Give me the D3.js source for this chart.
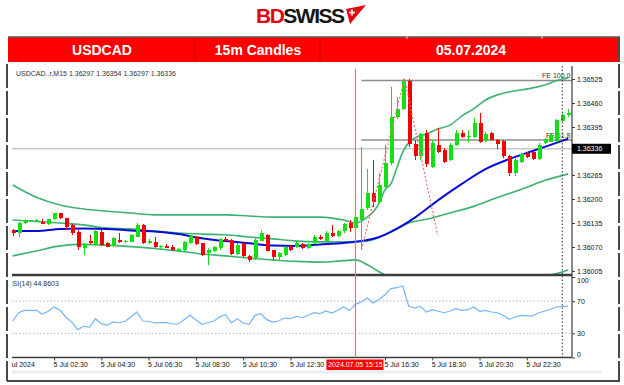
<!DOCTYPE html>
<html lang="en">
<head>
  <meta charset="UTF-8"/>
  <title>USDCAD 15m Candles</title>
  <script src="https://d3js.org/d3.v7.min.js"></script>
  <style>
body {
  margin: 0;
  background: #fff;
}

svg {
  display: block;
  font-family: 'Liberation Sans', Arial, sans-serif;
}

.axis text {
  font-size: 7px;
  fill: #111;
}

.axis line {
  stroke: #404040;
}

.axis path {
  display: none;
}

.header {
  font-size: 14px;
  font-weight: bold;
  fill: #fff;
}

.small {
  font-size: 7px;
  fill: #333;
}
  </style>
</head>
<body>
  <svg id="chart" width="624" height="385"></svg>
  <script>

// first bar of the chart, 15 minute bars
const startTime = '2024-07-05 00:45';

const opens = [1.36116, 1.36109, 1.36135, 1.36142, 1.36143, 1.36138, 1.36131, 1.36145, 1.36161, 1.36148,
  1.36130, 1.36111, 1.36066, 1.36087, 1.36075, 1.36111, 1.36080, 1.36073, 1.36089, 1.36084,
  1.36084, 1.36098, 1.36130, 1.36080, 1.36084, 1.36071, 1.36074, 1.36071, 1.36058, 1.36062,
  1.36080, 1.36098, 1.36080, 1.36055, 1.36058, 1.36066, 1.36091, 1.36089, 1.36051, 1.36080,
  1.36046, 1.36039, 1.36087, 1.36102, 1.36062, 1.36042, 1.36048, 1.36071, 1.36069, 1.36078,
  1.36066, 1.36080, 1.36098, 1.36087, 1.36109, 1.36101, 1.36114, 1.36134, 1.36121, 1.36143,
  1.36175, 1.36217, 1.36193, 1.36233, 1.36297, 1.36421, 1.36445, 1.36520, 1.36349, 1.36317,
  1.36379, 1.36287, 1.36346, 1.36333, 1.36306, 1.36346, 1.36379, 1.36368, 1.36368, 1.36405,
  1.36357, 1.36378, 1.36360, 1.36357, 1.36317, 1.36270, 1.36301, 1.36324, 1.36328, 1.36307,
  1.36351, 1.36355, 1.36357, 1.36412, 1.36427];

const highs = [1.36119, 1.36139, 1.36146, 1.36144, 1.36146, 1.36145, 1.36146, 1.36163, 1.36163, 1.36149,
  1.36132, 1.36116, 1.36080, 1.36102, 1.36119, 1.36117, 1.36084, 1.36097, 1.36108, 1.36089,
  1.36105, 1.36135, 1.36132, 1.36092, 1.36096, 1.36075, 1.36078, 1.36075, 1.36066, 1.36086,
  1.36102, 1.36101, 1.36082, 1.36066, 1.36074, 1.36094, 1.36096, 1.36092, 1.36081, 1.36082,
  1.36048, 1.36094, 1.36116, 1.36105, 1.36063, 1.36056, 1.36073, 1.36075, 1.36084, 1.36081,
  1.36081, 1.36102, 1.36102, 1.36112, 1.36130, 1.36116, 1.36134, 1.36143, 1.36166, 1.36341,
  1.36280, 1.36306, 1.36270, 1.36346, 1.36504, 1.36477, 1.36526, 1.36525, 1.36360, 1.36380,
  1.36387, 1.36360, 1.36392, 1.36338, 1.36352, 1.36387, 1.36387, 1.36387, 1.36419, 1.36432,
  1.36381, 1.36381, 1.36362, 1.36360, 1.36319, 1.36311, 1.36325, 1.36327, 1.36331, 1.36351,
  1.36364, 1.36378, 1.36418, 1.36433, 1.36445];

const lows = [1.36100, 1.36096, 1.36132, 1.36140, 1.36141, 1.36131, 1.36130, 1.36143, 1.36146, 1.36116,
  1.36103, 1.36062, 1.36048, 1.36078, 1.36073, 1.36073, 1.36070, 1.36070, 1.36081, 1.36081,
  1.36084, 1.36097, 1.36078, 1.36078, 1.36066, 1.36065, 1.36067, 1.36059, 1.36056, 1.36059,
  1.36078, 1.36075, 1.36046, 1.36021, 1.36056, 1.36062, 1.36085, 1.36048, 1.36048, 1.36043,
  1.36029, 1.36035, 1.36085, 1.36058, 1.36035, 1.36035, 1.36046, 1.36059, 1.36067, 1.36065,
  1.36065, 1.36078, 1.36089, 1.36086, 1.36098, 1.36098, 1.36107, 1.36111, 1.36107, 1.36062,
  1.36170, 1.36179, 1.36188, 1.36229, 1.36292, 1.36418, 1.36441, 1.36342, 1.36306, 1.36306,
  1.36286, 1.36284, 1.36324, 1.36297, 1.36303, 1.36344, 1.36364, 1.36355, 1.36365, 1.36352,
  1.36354, 1.36357, 1.36335, 1.36311, 1.36262, 1.36262, 1.36297, 1.36311, 1.36306, 1.36306,
  1.36349, 1.36354, 1.36355, 1.36409, 1.36423];

const closes = [1.36108, 1.36134, 1.36143, 1.36143, 1.36144, 1.36132, 1.36145, 1.36161, 1.36148, 1.36125,
  1.36109, 1.36071, 1.36078, 1.36080, 1.36114, 1.36075, 1.36071, 1.36094, 1.36084, 1.36085,
  1.36102, 1.36130, 1.36080, 1.36086, 1.36071, 1.36073, 1.36068, 1.36062, 1.36064, 1.36084,
  1.36100, 1.36078, 1.36048, 1.36062, 1.36071, 1.36091, 1.36087, 1.36051, 1.36075, 1.36046,
  1.36035, 1.36089, 1.36109, 1.36060, 1.36042, 1.36053, 1.36069, 1.36062, 1.36080, 1.36066,
  1.36078, 1.36096, 1.36092, 1.36109, 1.36100, 1.36113, 1.36132, 1.36121, 1.36152, 1.36172,
  1.36215, 1.36193, 1.36238, 1.36297, 1.36421, 1.36443, 1.36520, 1.36349, 1.36317, 1.36376,
  1.36295, 1.36351, 1.36328, 1.36301, 1.36346, 1.36378, 1.36368, 1.36370, 1.36405, 1.36355,
  1.36376, 1.36360, 1.36349, 1.36317, 1.36270, 1.36306, 1.36322, 1.36315, 1.36308, 1.36346,
  1.36362, 1.36373, 1.36414, 1.36427, 1.36432];

const rsi = [45, 55.6, 58.6, 58.6, 58.6, 54, 57.4, 62.7, 58.6, 50.3,
  44, 34.5, 38.8, 37.9, 48.2, 42, 40, 44, 43.2, 45,
  50.3, 56.5, 45.3, 45, 42.9, 43.2, 43.2, 41.6, 41.6, 47,
  52.4, 47, 41.2, 43.2, 45, 50.3, 53.2, 42.9, 48.2, 42.9,
  41.2, 52.4, 54.4, 47, 44, 45.3, 49, 48.2, 51.2, 49.4,
  52.4, 55.6, 54.4, 57.8, 55.3, 58.6, 62.7, 58.6, 66, 68.9,
  73.9, 67.7, 72.3, 78, 85.5, 86.7, 88.8, 64, 61.5, 63.6,
  56.5, 59.4, 57.4, 55.6, 57.8, 60.6, 58.6, 59.4, 62.7, 57.4,
  58.6, 56.5, 55.6, 52.4, 47.5, 50.3, 52.4, 51.6, 51.6, 55.6,
  57.4, 59.9, 62.7, 63.6, 63.6];

// indicator lines: [bar index, price]
const bbUpper = [[0, 1.36238], [4, 1.36205], [8, 1.36184], [12, 1.36173], [16, 1.36167], [20, 1.36162],
  [24, 1.36157], [28, 1.36157], [32, 1.36157], [36, 1.36157], [40, 1.36154], [44, 1.36151],
  [48, 1.36151], [52, 1.36151], [56, 1.36143], [58, 1.36135], [59, 1.36140], [60, 1.36151],
  [61, 1.36165], [62, 1.36189], [63, 1.36225], [64, 1.36241], [65, 1.36284], [66, 1.36327],
  [67, 1.36352], [68, 1.36365], [70, 1.36376], [72, 1.36390], [74, 1.36400], [76, 1.36425],
  [78, 1.36444], [80, 1.36468], [82, 1.36482], [84, 1.36490], [86, 1.36495], [88, 1.36501],
  [90, 1.36509], [92, 1.36520], [94, 1.36528]];

const bbMiddle = [[0, 1.36143], [4, 1.36139], [8, 1.36135], [12, 1.36130], [16, 1.36121], [20, 1.36119],
  [24, 1.36113], [28, 1.36108], [32, 1.36105], [36, 1.36103], [40, 1.36097], [44, 1.36092],
  [48, 1.36086], [52, 1.36084], [56, 1.36084], [60, 1.36086], [62, 1.36096], [64, 1.36112],
  [67, 1.36135], [70, 1.36145], [74, 1.36162], [78, 1.36180], [82, 1.36204], [86, 1.36226],
  [90, 1.36250], [94, 1.36268]];

const bbLower = [[0, 1.36046], [4, 1.36059], [8, 1.36073], [12, 1.36077], [16, 1.36075], [20, 1.36071],
  [24, 1.36066], [28, 1.36059], [32, 1.36051], [36, 1.36046], [40, 1.36040], [44, 1.36035],
  [48, 1.36031], [52, 1.36029], [56, 1.36033], [58, 1.36035], [60, 1.36022], [62, 1.36003],
  [64, 1.35983], [67, 1.35918], [70, 1.35914], [74, 1.35924], [78, 1.35916], [82, 1.35926],
  [86, 1.35957], [90, 1.35991], [92, 1.35998], [94, 1.36008]];

const maLine = [[0, 1.36113], [4, 1.36113], [8, 1.36119], [12, 1.36120], [16, 1.36119], [20, 1.36115],
  [24, 1.36112], [28, 1.36105], [32, 1.36094], [36, 1.36086], [40, 1.36080], [44, 1.36074],
  [48, 1.36073], [52, 1.36077], [56, 1.36081], [58, 1.36084], [60, 1.36089], [62, 1.36097],
  [64, 1.36111], [68, 1.36149], [72, 1.36197], [76, 1.36241], [80, 1.36281], [84, 1.36308],
  [88, 1.36330], [92, 1.36352], [94, 1.36363]];

// fibo expansion drawing
const fePoints = [[59, 1.36062], [66.3, 1.36526], [71.9, 1.36102]];
const feLabels = ['FE 100.0', 'FE 61.8'];
const feLevels = [1.36521, 1.36360];
const feStart = 59;

const lastPrice = 1.36336;
const cursorBar = 58;
const cursorLabel = '2024.07.05 15:15';
const daySeparator = 93;

const priceTicks = [1.36525, 1.36460, 1.36395, 1.36265, 1.36200, 1.36135, 1.36070, 1.36005];
const rsiTicks = [0, 30, 70, 100];
const rsiLevels = [30, 70];
const timeLabels = ['5 Jul 2024', '5 Jul 02:30', '5 Jul 04:30', '5 Jul 06:30', '5 Jul 08:30', '5 Jul 10:30',
  '5 Jul 12:30', '5 Jul 16:30', '5 Jul 18:30', '5 Jul 20:30', '5 Jul 22:30'];
const timeLabelTimes = ['2024-07-05 00:00', '2024-07-05 02:30', '2024-07-05 04:30', '2024-07-05 06:30',
  '2024-07-05 08:30', '2024-07-05 10:30', '2024-07-05 12:30', '2024-07-05 16:30',
  '2024-07-05 18:30', '2024-07-05 20:30', '2024-07-05 22:30'];

const headerCells = ['USDCAD', '15m Candles', '05.07.2024'];
const topLine = 'USDCAD..r,M15  1.36297 1.36354 1.36297 1.36336';
const rsiTitle = 'RSI(14) 44.8603';

const svg = d3.select('#chart');

const left = 12;
const right = 572;
const mainTop = 66;
const mainBottom = 274;
const rsiTop = 277;
const rsiBottom = 357.5;

const parse = d3.timeParse('%Y-%m-%d %H:%M');
const t0 = parse(startTime);
const barIndex = (s) => (parse(s) - t0) / (15 * 60 * 1000);

const xScale = d3.scaleLinear()
  .domain([0, opens.length - 1])
  .range([12.7, 568.2]);

const yScale = d3.scaleLinear()
  .domain([1.36005, 1.36525])
  .range([271, 79]);

const rsiY = d3.scaleLinear()
  .domain([0, 100])
  .range([rsiBottom, rsiTop]);

const bars = opens.map((o, i) => ({ i, o, h: highs[i], l: lows[i], c: closes[i] }));

// ---------- logo + red header ----------
const logo = svg.append('text')
  .attr('x', 256)
  .attr('y', 23)
  .attr('font-size', 21)
  .attr('font-weight', 'bold')
  .attr('letter-spacing', -1.5);
logo.append('tspan').attr('fill', '#e30613').text('BD');
logo.append('tspan').attr('fill', '#151515').text('SWISS');

svg.append('path')
  .attr('d', 'M346,9 L366,5 L350,24 Z')
  .attr('fill', '#e30613');
svg.append('path')
  .attr('d', 'M349,12.5 h6 M352,9.5 v6')
  .attr('stroke', '#fff')
  .attr('stroke-width', 1.6);

svg.append('rect')
  .attr('x', 8).attr('y', 37)
  .attr('width', 612).attr('height', 25)
  .attr('fill', '#ff0000');
svg.append('line')
  .attr('x1', 8).attr('x2', 620).attr('y1', 37).attr('y2', 37)
  .attr('stroke', '#5a5a5a').attr('stroke-width', 1.5);
[195, 320].forEach((x) => {
  svg.append('line')
    .attr('x1', x).attr('x2', x).attr('y1', 37).attr('y2', 62)
    .attr('stroke', '#c80000').attr('stroke-width', 1);
});
[407, 542].forEach((x) => {
  svg.append('line')
    .attr('x1', x).attr('x2', x).attr('y1', 36).attr('y2', 39)
    .attr('stroke', '#d0d0d0').attr('stroke-width', 1);
});

const cellCenters = [102, 258, 471];
headerCells.forEach((t, i) => {
  svg.append('text')
    .attr('class', 'header')
    .attr('x', cellCenters[i])
    .attr('y', 54.5)
    .attr('text-anchor', 'middle')
    .text(t);
});

// ---------- outer frame ----------
svg.append('line')
  .attr('x1', 7).attr('x2', 7).attr('y1', 64).attr('y2', 381)
  .attr('stroke', '#484848').attr('stroke-width', 2)
  .attr('stroke-dasharray', '24 3');
svg.append('line')
  .attr('x1', 619).attr('x2', 619).attr('y1', 37).attr('y2', 381)
  .attr('stroke', '#484848').attr('stroke-width', 2)
  .attr('stroke-dasharray', '24 3');
svg.append('line')
  .attr('x1', 7).attr('x2', 620).attr('y1', 381).attr('y2', 381)
  .attr('stroke', '#484848').attr('stroke-width', 2);
svg.append('line')
  .attr('x1', 12).attr('x2', 602).attr('y1', 372).attr('y2', 372)
  .attr('stroke', '#ececec').attr('stroke-width', 3);

// ---------- clip paths ----------
const defs = svg.append('defs');
defs.append('clipPath').attr('id', 'clipMain')
  .append('rect').attr('x', left).attr('y', mainTop)
  .attr('width', right - left).attr('height', mainBottom - mainTop);
defs.append('clipPath').attr('id', 'clipRsi')
  .append('rect').attr('x', left).attr('y', rsiTop)
  .attr('width', right - left).attr('height', rsiBottom - rsiTop);
defs.append('clipPath').attr('id', 'clipLeft')
  .append('rect').attr('x', left).attr('y', 0)
  .attr('width', 624 - left).attr('height', 385);

const main = svg.append('g').attr('clip-path', 'url(#clipMain)');

// last price line
main.append('line')
  .attr('x1', left).attr('x2', right)
  .attr('y1', yScale(lastPrice)).attr('y2', yScale(lastPrice))
  .attr('stroke', '#c3c8d2').attr('stroke-width', 1.5);

// fibo levels
feLevels.forEach((p, k) => {
  main.append('line')
    .attr('x1', xScale(feStart)).attr('x2', right)
    .attr('y1', yScale(p)).attr('y2', yScale(p))
    .attr('stroke', '#8c8c8c').attr('stroke-width', 1.5);
  main.append('text')
    .attr('class', 'small')
    .attr('x', right - 1.5)
    .attr('y', yScale(p) - 2)
    .attr('text-anchor', 'end')
    .text(feLabels[k]);
});

// indicator lines
const line = d3.line()
  .x((d) => xScale(d[0]))
  .y((d) => yScale(d[1]))
  .curve(d3.curveMonotoneX);

[bbUpper, bbMiddle, bbLower].forEach((band) => {
  main.append('path')
    .datum(band)
    .attr('d', line)
    .attr('fill', 'none')
    .attr('stroke', '#3cb371')
    .attr('stroke-width', 1.6);
});

main.append('path')
  .datum(maLine)
  .attr('d', line)
  .attr('fill', 'none')
  .attr('stroke', '#0a0ad8')
  .attr('stroke-width', 2);

// candles
const candle = main.selectAll('g.candle')
  .data(bars)
  .enter()
  .append('g')
  .attr('class', 'candle')
  .attr('shape-rendering', 'crispEdges');

const colour = (d) => (d.c >= d.o ? '#12e012' : '#f50000');

candle.append('line')
  .attr('x1', (d) => Math.round(xScale(d.i)) + 0.5)
  .attr('x2', (d) => Math.round(xScale(d.i)) + 0.5)
  .attr('y1', (d) => yScale(d.h))
  .attr('y2', (d) => yScale(d.l))
  .attr('stroke', colour);

candle.append('rect')
  .attr('x', (d) => Math.round(xScale(d.i)) - 1.5)
  .attr('y', (d) => Math.min(yScale(d.o), yScale(d.c)))
  .attr('width', 4)
  .attr('height', (d) => Math.max(1, Math.abs(yScale(d.o) - yScale(d.c))))
  .attr('fill', colour);

// fibo expansion dotted path
main.append('path')
  .datum(fePoints)
  .attr('d', d3.line().x((d) => xScale(d[0])).y((d) => yScale(d[1])))
  .attr('fill', 'none')
  .attr('stroke', '#ff6a6a')
  .attr('stroke-width', 1.2)
  .attr('stroke-dasharray', '2 2');

// symbol line top left
svg.append('text')
  .attr('class', 'small')
  .attr('x', 16)
  .attr('y', 75.5)
  .text(topLine);

// ---------- rsi panel ----------
const sub = svg.append('g').attr('clip-path', 'url(#clipRsi)');

rsiLevels.forEach((v) => {
  sub.append('line')
    .attr('x1', left).attr('x2', right)
    .attr('y1', rsiY(v)).attr('y2', rsiY(v))
    .attr('stroke', '#b8b8b8')
    .attr('stroke-dasharray', '1.5 2');
});

sub.append('path')
  .datum(rsi)
  .attr('d', d3.line().x((d, i) => xScale(i)).y((d) => rsiY(d)))
  .attr('fill', 'none')
  .attr('stroke', '#74b6fb')
  .attr('stroke-width', 1.2);

svg.append('g').attr('clip-path', 'url(#clipLeft)')
  .append('text')
  .attr('class', 'small')
  .attr('x', 7.5)
  .attr('y', 286)
  .text(rsiTitle);

// ---------- separators, axes ----------
svg.append('line')
  .attr('x1', left).attr('x2', right).attr('y1', 275).attr('y2', 275)
  .attr('stroke', '#3c3c3c').attr('stroke-width', 2.5);
svg.append('line')
  .attr('x1', left).attr('x2', right).attr('y1', rsiBottom).attr('y2', rsiBottom)
  .attr('stroke', '#3c3c3c').attr('stroke-width', 1.5);
svg.append('line')
  .attr('x1', right).attr('x2', right).attr('y1', mainTop).attr('y2', rsiBottom)
  .attr('stroke', '#3c3c3c').attr('stroke-width', 1.2);

// cursor + day separator
svg.append('line')
  .attr('x1', xScale(cursorBar)).attr('x2', xScale(cursorBar))
  .attr('y1', 69).attr('y2', rsiBottom)
  .attr('stroke', '#f07070').attr('stroke-width', 1.2);
svg.append('line')
  .attr('x1', xScale(daySeparator)).attr('x2', xScale(daySeparator))
  .attr('y1', mainTop).attr('y2', rsiBottom)
  .attr('stroke', '#333').attr('stroke-width', 1)
  .attr('stroke-dasharray', '1.5 2');

svg.append('g')
  .attr('class', 'axis')
  .attr('transform', `translate(${right}, 0)`)
  .call(d3.axisRight(yScale)
    .tickValues(priceTicks)
    .tickFormat(d3.format('.5f'))
    .tickSize(3)
    .tickPadding(2));

const rsiAxis = svg.append('g')
  .attr('class', 'axis')
  .attr('transform', `translate(${right}, 0)`)
  .call(d3.axisRight(rsiY)
    .tickValues(rsiTicks)
    .tickSize(3)
    .tickPadding(2));
rsiAxis.selectAll('.tick text')
  .attr('dy', (d) => (d === 100 ? '0.8em' : d === 0 ? '-0.2em' : '0.32em'));

// last price box
svg.append('rect')
  .attr('x', right).attr('y', yScale(lastPrice) - 5)
  .attr('width', 39).attr('height', 10)
  .attr('fill', '#000');
svg.append('text')
  .attr('x', right + 5).attr('y', yScale(lastPrice) + 2.5)
  .attr('font-size', 7).attr('fill', '#fff')
  .text(d3.format('.5f')(lastPrice));

const timeAxis = svg.append('g')
  .attr('clip-path', 'url(#clipLeft)')
  .append('g')
  .attr('class', 'axis')
  .attr('transform', `translate(0, ${rsiBottom})`)
  .call(d3.axisBottom(xScale)
    .tickValues(timeLabelTimes.map(barIndex))
    .tickFormat((d, i) => timeLabels[i])
    .tickSize(3)
    .tickPadding(2));
timeAxis.selectAll('.tick text')
  .attr('text-anchor', 'start')
  .attr('x', (d, i) => (i === 0 ? 7 : -1));

// cursor time label
const cx = xScale(cursorBar);
svg.append('rect')
  .attr('x', cx - 29).attr('y', 359.5)
  .attr('width', 57).attr('height', 10.5)
  .attr('fill', '#ff0000');
svg.append('text')
  .attr('x', cx).attr('y', 367.3)
  .attr('text-anchor', 'middle')
  .attr('font-size', 7).attr('fill', '#fff')
  .text(cursorLabel);

  </script>
</body>
</html>
